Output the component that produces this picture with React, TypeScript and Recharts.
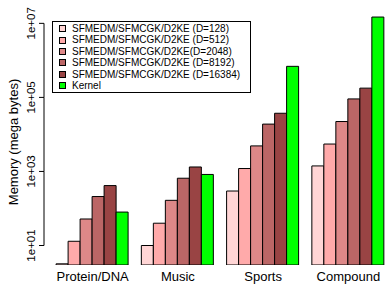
import { BarChart, Bar, XAxis, YAxis } from 'recharts';

const categories = ['Protein/DNA', 'Music', 'Sports', 'Compound'];
const d128 = [3.2, 10, 296, 1410];
const d512 = [13, 40, 1200, 5500];
const d2048 = [52, 166, 4900, 22300];
const d8192 = [210, 656, 19000, 91000];
const d16384 = [415, 1320, 37300, 178000];
const kernel = [80, 830, 690000, 14800000];
const yTicks = [10, 1000, 100000, 10000000];

const series = [
  { key: 'd128', name: 'SFMEDM/SFMCGK/D2KE (D=128)', values: d128, color: '#FFD5D5' },
  { key: 'd512', name: 'SFMEDM/SFMCGK/D2KE (D=512)', values: d512, color: '#FFAAAA' },
  { key: 'd2048', name: 'SFMEDM/SFMCGK/D2KE(D=2048)', values: d2048, color: '#DD8888' },
  { key: 'd8192', name: 'SFMEDM/SFMCGK/D2KE (D=8192)', values: d8192, color: '#BB6666' },
  { key: 'd16384', name: 'SFMEDM/SFMCGK/D2KE (D=16384)', values: d16384, color: '#994444' },
  { key: 'kernel', name: 'Kernel', values: kernel, color: '#00FF00' },
];

const data = categories.map((name, i) => {
  const row: Record<string, string | number> = { name };
  series.forEach((s) => (row[s.key] = s.values[i]));
  return row;
});

const FONT = '"Liberation Sans", Arial, sans-serif';
const W = 392;
const H = 287;
const TOP = 12.2;
const XAXIS_H = 22;
const Y_MIN = 2.974;
const Y_MAX = 2e7;
const PLOT_H = H - TOP - XAXIS_H;
const DECADE = PLOT_H / Math.log10(Y_MAX / Y_MIN);
const AXIS_X = 44;

const YTick = (props: any) => {
  const { payload, index, visibleTicksCount } = props;
  const y = payload.coordinate;
  const exp = Math.round(Math.log10(payload.value));
  const label = `1e+${String(exp).padStart(2, '0')}`;
  const last = index === visibleTicksCount - 1;
  return (
    <g>
      <line x1={AXIS_X - 5} x2={AXIS_X} y1={y} y2={y} stroke="#000" />
      {!last && <line x1={AXIS_X} x2={AXIS_X} y1={y} y2={y - 2 * DECADE} stroke="#000" />}
      <text
        x={31}
        y={y}
        transform={`rotate(-90, 31, ${y})`}
        textAnchor="middle"
        dominantBaseline="central"
        fontSize={11.5}
        fontFamily={FONT}
        fill="#000"
      >
        {label}
      </text>
    </g>
  );
};

const YTitle = () => (
  <text
    x={13}
    y={142}
    transform="rotate(-90, 13, 142)"
    textAnchor="middle"
    dominantBaseline="central"
    fontSize={13}
    fontFamily={FONT}
    fill="#000"
  >
    Memory (mega bytes)
  </text>
);

const App = () => {
  return (
    <div style={{ position: 'absolute', left: 0, top: 0, width: 386, height: H, overflow: 'hidden', background: '#fff' }}>
      <BarChart
        width={W}
        height={H}
        data={data}
        margin={{ top: TOP, right: 1, bottom: 0, left: 0 }}
        barCategoryGap={6.1}
        barGap={0}
      >
        <XAxis
          dataKey="name"
          height={XAXIS_H}
          axisLine={false}
          tickLine={false}
          tickMargin={1}
          tick={{ fontSize: 13, fontFamily: FONT, fill: '#000' }}
        />
        <YAxis
          type="number"
          scale="log"
          domain={[Y_MIN, Y_MAX]}
          allowDataOverflow
          ticks={yTicks}
          interval={0}
          width={50}
          axisLine={false}
          tickLine={false}
          tick={<YTick />}
          label={<YTitle />}
        />
        {series.map((s) => (
          <Bar
            key={s.key}
            dataKey={s.key}
            name={s.name}
            fill={s.color}
            stroke="#000"
            strokeWidth={1}
            isAnimationActive={false}
          />
        ))}
      </BarChart>
      <div
        style={{
          position: 'absolute',
          left: 52,
          top: 21,
          width: 197,
          height: 69,
          border: '1px solid #000',
          fontFamily: FONT,
          fontSize: 10,
          lineHeight: '11.4px',
          paddingTop: 1,
          boxSizing: 'content-box',
        }}
      >
        {series.map((s) => (
          <div key={s.key} style={{ display: 'flex', alignItems: 'center', height: 11.4, whiteSpace: 'nowrap' }}>
            <span
              style={{
                display: 'inline-block',
                width: 5,
                height: 5,
                marginLeft: 6,
                marginRight: 6,
                background: s.color,
                border: '1px solid #000',
              }}
            />
            <span>{s.name}</span>
          </div>
        ))}
      </div>
    </div>
  );
};

export default App;
